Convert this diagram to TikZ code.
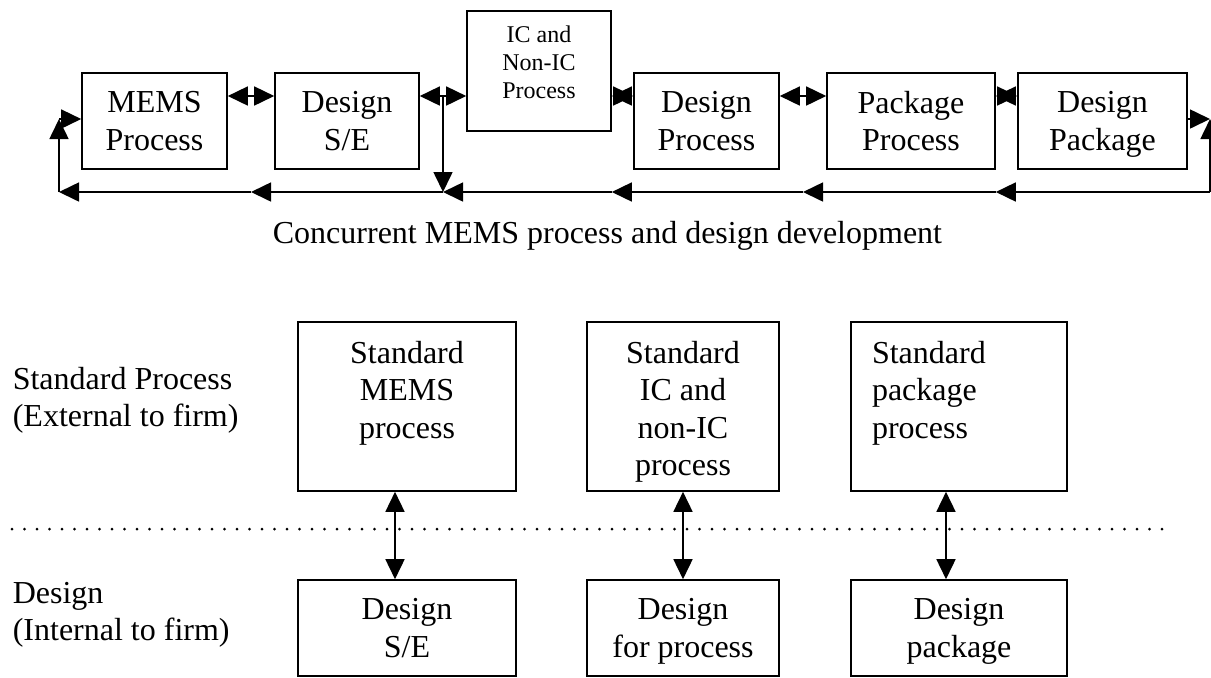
\documentclass[tikz,border=0pt]{standalone}
\usepackage{fontspec}
\setmainfont{Liberation Serif}
\usetikzlibrary{arrows.meta,positioning,calc}

\begin{document}
\begin{tikzpicture}[x=0.5pt,y=-0.5pt,line width=0.8pt,font=\fontsize{16}{18.75}\selectfont,
  box/.style={draw,inner sep=0pt,align=center,text depth=0pt},
  txt/.style={inner sep=0pt,align=center},
  arr/.style={-{Triangle[length=10pt,width=9.5pt]}},
  darr/.style={{Triangle[length=10pt,width=9.5pt]}-{Triangle[length=10pt,width=9.5pt]}}]
\useasboundingbox (0,0) rectangle (1211,677);
% concurrent flow
\node[box,minimum width=72.5pt,minimum height=48pt] (mems) at (154.5,121) {MEMS\\Process};
\node[box,minimum width=72pt,minimum height=48pt] (dse) at (347,121) {Design\\S/E};
\node[box,minimum width=72pt,minimum height=60pt] (ic) at (539,71) {};
\node[txt,font=\fontsize{12}{14}\selectfont,below=7.6pt of ic.north] (ic-t) {IC and\\Non-IC\\Process};
\node[box,minimum width=72.5pt,minimum height=48pt] (dp) at (706.5,121) {Design\\Process};
\node[box,minimum width=84pt,minimum height=48pt] (pp) at (911,121) {Package\\Process};
\node[box,minimum width=84.5pt,minimum height=48pt] (dpk) at (1102.5,121) {Design\\Package};
\coordinate (row) at (0,96);
\coordinate (fin) at (0,119);
\coordinate (fb) at (0,192);
\coordinate (lc) at (59,192);
\coordinate (rc) at (1210,192);
\coordinate (m1) at ($(mems.east)!0.5!(dse.west)$);
\coordinate (tap) at ($(dse.east)!0.5!(ic.west)$);
\coordinate (m3) at ($(dp.east)!0.5!(pp.west)$);
\draw[darr] (mems.east |- row) -- (dse.west |- row);
\draw[darr] (dse.east |- row) -- (ic.west |- row);
\draw[darr] (ic.east |- row) -- (dp.west |- row);
\draw[darr] (dp.east |- row) -- (pp.west |- row);
\draw[darr] (pp.east |- row) -- (dpk.west |- row);
\draw[arr] (tap) -- (tap |- fb);
% feedback loop
\draw[arr] (rc) -- (pp.east |- fb);
\draw[arr] (pp.east |- fb) -- (m3 |- fb);
\draw[arr] (m3 |- fb) -- (ic.east |- fb);
\draw[arr] (ic.east |- fb) -- (tap |- fb);
\draw[arr] (tap |- fb) -- (m1 |- fb);
\draw[arr] (m1 |- fb) -- (lc);
\draw[arr] (lc) -- (lc |- fin);
\draw[arr] (lc |- fin) -- (mems.west |- fin);
\draw[arr] (rc) -- (rc |- fin);
\draw[arr] (dpk.east |- fin) -- (rc |- fin);
\node[anchor=base] (cap) at (607.5,243) {Concurrent MEMS process and design development};
% standard process vs design
\node[txt,align=left,anchor=north west] (ext) at (12,366) {Standard Process\\(External to firm)};
\node[txt,align=left,anchor=north west] (int) at (12,581) {Design\\(Internal to firm)};
\node[box,minimum width=109pt,minimum height=84.5pt] (smems) at (407,406.5) {};
\node[box,minimum width=96pt,minimum height=84.5pt] (sic) at (683,406.5) {};
\node[box,minimum width=108pt,minimum height=84.5pt] (spk) at (959,406.5) {};
\node[txt,below=9.5pt of smems.north] (smems-t) {Standard\\MEMS\\process};
\node[txt,below=9.5pt of sic.north] (sic-t) {Standard\\IC and\\non-IC\\process};
\node[txt,align=left,anchor=north west] (spk-t) at ([xshift=10.5pt,yshift=-9.5pt]spk.north west) {Standard\\package\\process};
\node[box,minimum width=109pt,minimum height=48pt] (dse2) at (407,628) {Design\\S/E};
\node[box,minimum width=96pt,minimum height=48pt] (dfp) at (683,628) {Design\\for process};
\node[box,minimum width=108pt,minimum height=48pt] (dpk2) at (959,628) {Design\\package};
\draw[line width=1.5pt,line cap=round,dash pattern=on 0pt off 6.25pt] (12,529) -- (1162,529);
\draw[darr] ([xshift=-6pt]smems.south) -- ([xshift=-6pt]dse2.north);
\draw[darr] (sic.south) -- (dfp.north);
\draw[darr] ([xshift=-6.5pt]spk.south) -- ([xshift=-6.5pt]dpk2.north);
\end{tikzpicture}
\end{document}
